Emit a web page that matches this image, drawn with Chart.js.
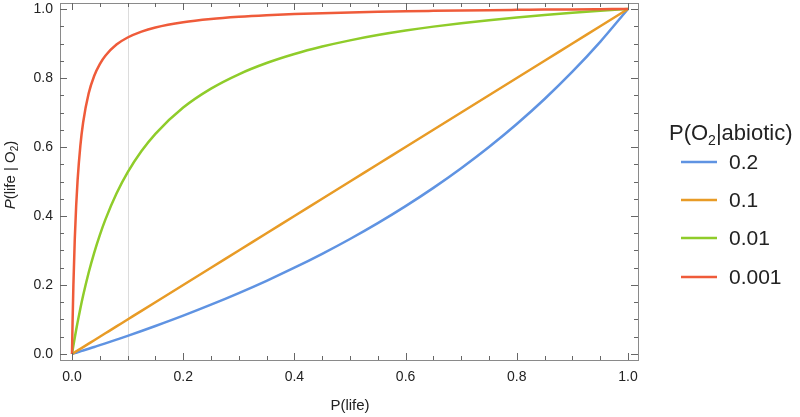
<!DOCTYPE html>
<html>
<head>
<meta charset="utf-8">
<script src="https://cdn.jsdelivr.net/npm/chart.js@4.4.0/dist/chart.umd.min.js"></script>
<style>
html,body{margin:0;padding:0;background:#fff;}
#wrap{width:800px;height:417px;position:relative;}
</style>
</head>
<body>
<div id="wrap"><canvas id="c" width="800" height="417"></canvas></div>
<script>
// ---- data ----
const xValues = [0, 0.001, 0.0025, 0.005, 0.0075, 0.01, 0.015, 0.02, 0.03, 0.04, 0.05, 0.06, 0.08, 0.1, 0.125, 0.15, 0.2, 0.25, 0.3, 0.35, 0.4, 0.45, 0.5, 0.55, 0.6, 0.65, 0.7, 0.75, 0.8, 0.85, 0.9, 0.95, 1.0];
const series02 = [0, 0.0005, 0.0013, 0.0025, 0.0038, 0.005, 0.0076, 0.0101, 0.0152, 0.0204, 0.0256, 0.0309, 0.0417, 0.0526, 0.0667, 0.0811, 0.1111, 0.1429, 0.1765, 0.2121, 0.25, 0.2903, 0.3333, 0.3793, 0.4286, 0.4815, 0.5385, 0.6, 0.6667, 0.7391, 0.8182, 0.9048, 1.0];
const series01 = [0, 0.001, 0.0025, 0.005, 0.0075, 0.01, 0.015, 0.02, 0.03, 0.04, 0.05, 0.06, 0.08, 0.1, 0.125, 0.15, 0.2, 0.25, 0.3, 0.35, 0.4, 0.45, 0.5, 0.55, 0.6, 0.65, 0.7, 0.75, 0.8, 0.85, 0.9, 0.95, 1.0];
const series001 = [0, 0.0099, 0.0244, 0.0478, 0.0704, 0.0917, 0.1322, 0.1695, 0.2362, 0.2941, 0.3448, 0.3896, 0.4651, 0.5263, 0.5882, 0.6383, 0.7143, 0.7692, 0.8108, 0.8434, 0.8696, 0.8911, 0.9091, 0.9244, 0.9375, 0.9489, 0.9589, 0.9677, 0.9756, 0.9827, 0.9890, 0.9948, 1.0];
const series0001 = [0, 0.0910, 0.2004, 0.3344, 0.4304, 0.5025, 0.6036, 0.6711, 0.7557, 0.8065, 0.8403, 0.8646, 0.8969, 0.9174, 0.9346, 0.9464, 0.9615, 0.9709, 0.9772, 0.9818, 0.9852, 0.9879, 0.9901, 0.9919, 0.9934, 0.9946, 0.9957, 0.9967, 0.9975, 0.9982, 0.9989, 0.9995, 1.0];
const seriesLabels = ["0.2", "0.1", "0.01", "0.001"];
const majorTicks = [0, 0.2, 0.4, 0.6, 0.8, 1.0];
const minorTicks = [0.05, 0.1, 0.15, 0.25, 0.3, 0.35, 0.45, 0.5, 0.55, 0.65, 0.7, 0.75, 0.85, 0.9, 0.95];
const gridX = [0.1];

const colors = ["#5f93e2", "#e89b26", "#8fcc2a", "#ef5b3a"];
const allSeries = [series02, series01, series001, series0001];

const FONT = "'Liberation Sans', Arial, sans-serif";

function pts(ys){ return xValues.map((x,i)=>({x:x, y:ys[i]})); }

const datasets = allSeries.map((s,i)=>({
  label: seriesLabels[i],
  data: pts(s),
  borderColor: colors[i],
  borderWidth: 2.5,
  pointRadius: 0,
  fill: false,
  cubicInterpolationMode: 'monotone',
  order: 3 - i
}));

const frameTicks = {
  id: 'frameTicks',
  beforeDatasetsDraw(chart){
    const {ctx, chartArea:a, scales:{x, y}} = chart;
    ctx.save();
    ctx.strokeStyle = '#dcdcdc';
    ctx.lineWidth = 1;
    gridX.forEach(v=>{
      const px = Math.round(x.getPixelForValue(v)) + 0.5;
      ctx.beginPath(); ctx.moveTo(px, a.top); ctx.lineTo(px, a.bottom); ctx.stroke();
    });
    ctx.restore();
  },
  afterDatasetsDraw(chart){
    const {ctx, chartArea:a, scales:{x, y}} = chart;
    ctx.save();
    ctx.strokeStyle = '#8a8a8a';
    ctx.lineWidth = 1;
    ctx.strokeRect(Math.round(a.left)+0.5, Math.round(a.top)+0.5, Math.round(a.right-a.left), Math.round(a.bottom-a.top));
    ctx.strokeStyle = '#666';
    const drawT = (vals, len) => {
      vals.forEach(v=>{
        const px = Math.round(x.getPixelForValue(v)) + 0.5;
        ctx.beginPath();
        ctx.moveTo(px, a.bottom); ctx.lineTo(px, a.bottom - len);
        ctx.moveTo(px, a.top); ctx.lineTo(px, a.top + len);
        ctx.stroke();
        const py = Math.round(y.getPixelForValue(v)) + 0.5;
        ctx.beginPath();
        ctx.moveTo(a.left, py); ctx.lineTo(a.left + len, py);
        ctx.moveTo(a.right, py); ctx.lineTo(a.right - len, py);
        ctx.stroke();
      });
    };
    drawT(majorTicks, 7);
    drawT(minorTicks, 4);
    ctx.restore();
  },
  afterDraw(chart){
    const {ctx, chartArea:a} = chart;
    ctx.save();
    ctx.fillStyle = '#222';
    // x title
    ctx.font = '15px ' + FONT;
    ctx.textAlign = 'center';
    ctx.textBaseline = 'middle';
    ctx.fillText('P(life)', 350, 406);
    // y title: "P(life | O2)" rotated, italic P
    ctx.translate(11, 175);
    ctx.rotate(-Math.PI/2);
    ctx.textAlign = 'left';
    const parts = [
      {t:'P', f:'italic 15px ' + FONT, dy:0},
      {t:'(life | ', f:'15px ' + FONT, dy:0},
      {t:'O', f:'15px ' + FONT, dy:0},
      {t:'2', f:'10px ' + FONT, dy:4},
      {t:')', f:'15px ' + FONT, dy:0}
    ];
    let w = 0;
    parts.forEach(p=>{ ctx.font = p.f; w += ctx.measureText(p.t).width; });
    let cx = -w/2;
    parts.forEach(p=>{ ctx.font = p.f; ctx.fillText(p.t, cx, p.dy); cx += ctx.measureText(p.t).width; });
    ctx.restore();

    // legend
    ctx.save();
    ctx.fillStyle = '#222';
    ctx.textBaseline = 'alphabetic';
    ctx.textAlign = 'left';
    const tparts = [
      {t:'P(', f:'22px ' + FONT, dy:0},
      {t:'O', f:'22px ' + FONT, dy:0},
      {t:'2', f:'14px ' + FONT, dy:5},
      {t:'|abiotic)', f:'22px ' + FONT, dy:0}
    ];
    let lx = 669;
    tparts.forEach(p=>{ ctx.font = p.f; ctx.fillText(p.t, lx, 140 + p.dy); lx += ctx.measureText(p.t).width; });
    const rowY = [162, 200, 238, 277];
    seriesLabels.forEach((lab,i)=>{
      ctx.strokeStyle = colors[i];
      ctx.lineWidth = 2.5;
      ctx.beginPath(); ctx.moveTo(681, rowY[i]); ctx.lineTo(717, rowY[i]); ctx.stroke();
      ctx.font = '21px ' + FONT;
      ctx.fillText(lab, 729, rowY[i] + 7);
    });
    ctx.restore();
  }
};

new Chart(document.getElementById('c'), {
  type: 'line',
  data: { datasets },
  options: {
    responsive: false,
    animation: false,
    devicePixelRatio: 1,
    layout: { autoPadding: false, padding: { left: 0, right: 162, top: 3, bottom: 0 } },
    plugins: { legend: { display: false }, tooltip: { enabled: false } },
    scales: {
      x: {
        type: 'linear',
        min: -0.0216, max: 1.018,
        grid: { display: false, drawTicks: false },
        border: { display: false },
        afterBuildTicks(s){ s.ticks = majorTicks.map(v=>({value:v})); },
        afterFit(s){ s.height = 57; s.paddingLeft = 0; s.paddingRight = 0; s.paddingTop = 0; s.paddingBottom = 0; },
        ticks: {
          padding: 9,
          color: '#222',
          font: { family: FONT, size: 14 },
          maxRotation: 0,
          callback: v => Number(v).toFixed(1)
        }
      },
      y: {
        type: 'linear',
        min: -0.0174, max: 1.0174,
        grid: { display: false, drawTicks: false },
        border: { display: false },
        afterBuildTicks(s){ s.ticks = majorTicks.map(v=>({value:v})); },
        afterFit(s){ s.width = 60; s.paddingTop = 0; s.paddingBottom = 0; s.paddingLeft = 0; s.paddingRight = 0; },
        ticks: {
          padding: 7,
          color: '#222',
          font: { family: FONT, size: 14 },
          callback: v => Number(v).toFixed(1)
        }
      }
    }
  },
  plugins: [frameTicks]
});
</script>
</body>
</html>
